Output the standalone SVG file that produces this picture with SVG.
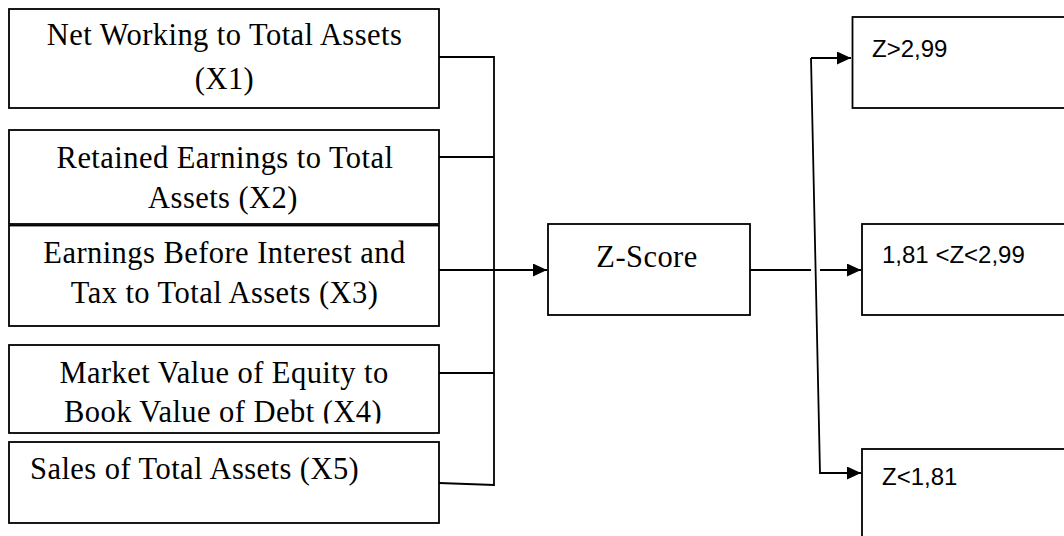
<svg xmlns="http://www.w3.org/2000/svg" width="1064" height="536" viewBox="0 0 1064 536">
<style>
.box{fill:#fff;stroke:#000;stroke-width:1.8}
.t{font-family:"Liberation Serif","Times New Roman",serif;font-size:30.5px;letter-spacing:0.45px;fill:#000}
.c{text-anchor:middle}
.s{font-family:"Liberation Sans",Arial,sans-serif;font-size:24px;fill:#000}
.ln{fill:none;stroke:#000;stroke-width:1.8}
</style>
<defs>
<marker id="ah" markerUnits="userSpaceOnUse" markerWidth="16" markerHeight="14" refX="14" refY="6.5" orient="auto">
<path d="M0,0 L14,6.5 L0,13 Z" fill="#000"/>
</marker>
<clipPath id="clip4"><rect x="9" y="345" width="430" height="78.5"/></clipPath>
</defs>
<rect width="1064" height="536" fill="#fff"/>
<g id="x1">
<rect class="box" x="9" y="9" width="430" height="99"/>
<text class="t c" x="224.5" y="45">Net Working to Total Assets</text>
<text class="t c" x="224.5" y="89">(X1)</text>
</g>
<g id="x2">
<rect class="box" x="9" y="130" width="430" height="94"/>
<text class="t c" x="225" y="168">Retained Earnings to Total</text>
<text class="t c" x="223" y="208">Assets (X2)</text>
</g>
<g id="x3">
<rect class="box" x="9" y="225.5" width="430" height="100.5"/>
<text class="t c" x="224.5" y="263">Earnings Before Interest and</text>
<text class="t c" x="224.5" y="303">Tax to Total Assets (X3)</text>
</g>
<g id="x4">
<rect class="box" x="9" y="345" width="430" height="88"/>
<g clip-path="url(#clip4)">
<text class="t c" x="224" y="383">Market Value of Equity to</text>
<text class="t c" x="223" y="422">Book Value of Debt (X4)</text>
</g>
</g>
<g id="x5">
<rect class="box" x="9" y="442" width="430" height="81"/>
<text class="t" x="30" y="479">Sales of Total Assets (X5)</text>
</g>
<g id="zscore">
<rect class="box" x="548" y="224" width="202" height="91"/>
<text class="t c" x="647" y="267">Z-Score</text>
</g>
<g id="high">
<rect class="box" x="852.5" y="17" width="230" height="91"/>
<text class="s" x="872" y="57">Z&gt;2,99</text>
</g>
<g id="mid">
<rect class="box" x="862" y="224" width="220" height="91"/>
<text class="s" x="882" y="263">1,81 &lt;Z&lt;2,99</text>
</g>
<g id="low">
<rect class="box" x="862" y="449" width="220" height="100"/>
<text class="s" x="882" y="485">Z&lt;1,81</text>
</g>
<g id="connectors">
<polyline class="ln" points="439,57 494,57 494,485 439,483"/>
<line class="ln" x1="439" y1="157" x2="494" y2="157"/>
<line class="ln" x1="439" y1="373" x2="494" y2="373"/>
<line class="ln" x1="439" y1="270" x2="547" y2="270" marker-end="url(#ah)"/>
<line class="ln" x1="750" y1="270" x2="811" y2="270"/>
<polyline class="ln" points="811,58 820,473 861,473" marker-end="url(#ah)"/>
<line class="ln" x1="811" y1="58" x2="851" y2="58" marker-end="url(#ah)"/>
<line class="ln" x1="820" y1="270" x2="861" y2="270" marker-end="url(#ah)"/>
</g>
</svg>
